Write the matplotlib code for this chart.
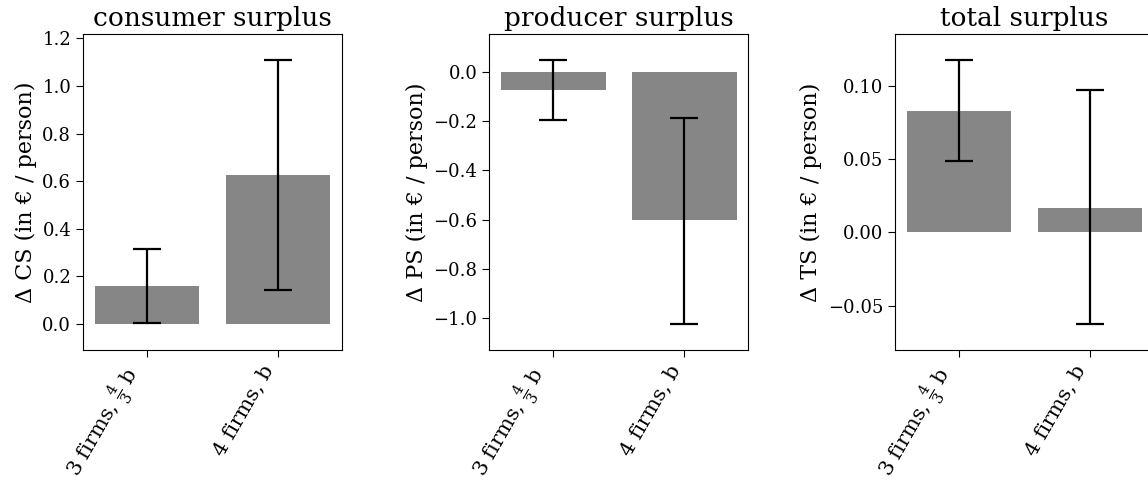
import numpy as np
import matplotlib
matplotlib.use("Agg")
import matplotlib.pyplot as plt
from matplotlib.transforms import ScaledTranslation

plt.rcParams['font.family'] = 'DejaVu Serif'
plt.rcParams['mathtext.fontset'] = 'dejavuserif'

# scenarios on the x axis
scenarios = ["3 firms, $\\frac{4}{3}$ b", "4 firms, b"]

# point estimates
cs_vals = [0.159, 0.625]
ps_vals = [-0.075, -0.603]
ts_vals = [0.0831, 0.0169]

# confidence intervals (low, high)
cs_lo = [0.004, 0.143]
cs_hi = [0.316, 1.108]
ps_lo = [-0.197, -1.022]
ps_hi = [0.046, -0.187]
ts_lo = [0.0488, -0.0622]
ts_hi = [0.1173, 0.0970]

titles = ["consumer surplus", "producer surplus", "total surplus"]
ylabels = ["Δ CS (in € / person)", "Δ PS (in € / person)", "Δ TS (in € / person)"]

fig = plt.figure(figsize=(11.48, 4.87), dpi=100)
W, H = 1148, 487
lefts = [83, 489.3, 895]

panels = [(cs_vals, cs_lo, cs_hi), (ps_vals, ps_lo, ps_hi), (ts_vals, ts_lo, ts_hi)]
for i, (vals, lo, hi) in enumerate(panels):
    ax = fig.add_axes([lefts[i] / W, 137 / H, 259 / W, 316 / H])
    x = np.arange(len(scenarios))
    vals = np.array(vals)
    yerr = np.array([vals - np.array(lo), np.array(hi) - vals])
    ax.bar(x, vals, width=0.8, color='#868686')
    ax.errorbar(x, vals, yerr=yerr, fmt='none', ecolor='black',
                elinewidth=1.6, capsize=10, capthick=1.6)
    # 10% padding around everything drawn (bars start at zero)
    ymin = min(0, min(lo))
    ymax = max(0, max(hi))
    pad = 0.1 * (ymax - ymin)
    ax.set_ylim(ymin - pad, ymax + pad)
    ax.set_xticks(x)
    ax.set_xticklabels(scenarios, rotation=60, ha='right', fontsize=15)
    # nudge rotated labels a little left/down
    shift = ScaledTranslation(-5 / 100, -3 / 100, fig.dpi_scale_trans)
    for lab in ax.get_xticklabels():
        lab.set_transform(lab.get_transform() + shift)
    ax.tick_params(axis='y', labelsize=13)
    ax.tick_params(length=5)
    ax.set_ylabel(ylabels[i], fontsize=16)
    ax.set_title(titles[i], fontsize=19)

fig.savefig("out.png", dpi=100)
